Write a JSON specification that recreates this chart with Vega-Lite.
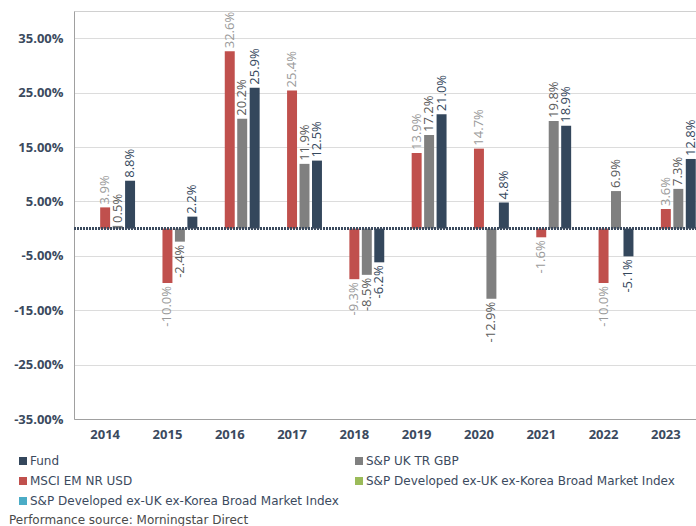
{
  "$schema": "https://vega.github.io/schema/vega-lite/v6.json",
  "autosize": {"type": "none"},
  "padding": {"left": 74, "top": 11, "right": 0, "bottom": 107},
  "width": 623,
  "height": 408,
  "config": {
    "locale": {"number": {"decimal": ".", "thousands": ",", "grouping": [3], "currency": ["$", ""], "minus": "-"}},
    "view": {"stroke": "#d0d0d0"},
    "font": "Open Sans"
  },
  "title": {
    "text": "Performance source: Morningstar Direct",
    "orient": "bottom",
    "anchor": "start",
    "frame": "group",
    "dx": -65,
    "offset": 8,
    "font": "DejaVu Sans",
    "fontSize": 12,
    "fontWeight": "normal",
    "color": "#4a4a4a"
  },
  "data": {
    "values": [
      {"year": "2014", "series": "MSCI EM NR USD", "value": 0.039},
      {"year": "2014", "series": "S&P UK TR GBP", "value": 0.005},
      {"year": "2014", "series": "Fund", "value": 0.088},
      {"year": "2015", "series": "MSCI EM NR USD", "value": -0.100},
      {"year": "2015", "series": "S&P UK TR GBP", "value": -0.024},
      {"year": "2015", "series": "Fund", "value": 0.022},
      {"year": "2016", "series": "MSCI EM NR USD", "value": 0.326},
      {"year": "2016", "series": "S&P UK TR GBP", "value": 0.202},
      {"year": "2016", "series": "Fund", "value": 0.259},
      {"year": "2017", "series": "MSCI EM NR USD", "value": 0.254},
      {"year": "2017", "series": "S&P UK TR GBP", "value": 0.119},
      {"year": "2017", "series": "Fund", "value": 0.125},
      {"year": "2018", "series": "MSCI EM NR USD", "value": -0.093},
      {"year": "2018", "series": "S&P UK TR GBP", "value": -0.085},
      {"year": "2018", "series": "Fund", "value": -0.062},
      {"year": "2019", "series": "MSCI EM NR USD", "value": 0.139},
      {"year": "2019", "series": "S&P UK TR GBP", "value": 0.172},
      {"year": "2019", "series": "Fund", "value": 0.210},
      {"year": "2020", "series": "MSCI EM NR USD", "value": 0.147},
      {"year": "2020", "series": "S&P UK TR GBP", "value": -0.129},
      {"year": "2020", "series": "Fund", "value": 0.048},
      {"year": "2021", "series": "MSCI EM NR USD", "value": -0.016},
      {"year": "2021", "series": "S&P UK TR GBP", "value": 0.198},
      {"year": "2021", "series": "Fund", "value": 0.189},
      {"year": "2022", "series": "MSCI EM NR USD", "value": -0.100},
      {"year": "2022", "series": "S&P UK TR GBP", "value": 0.069},
      {"year": "2022", "series": "Fund", "value": -0.051},
      {"year": "2023", "series": "MSCI EM NR USD", "value": 0.036},
      {"year": "2023", "series": "S&P UK TR GBP", "value": 0.073},
      {"year": "2023", "series": "Fund", "value": 0.128}
    ]
  },
  "encoding": {
    "x": {
      "field": "year", "type": "nominal",
      "scale": {"paddingInner": 0, "paddingOuter": 0},
      "axis": {
        "title": null, "labelAngle": 0, "ticks": false, "labelPadding": 9,
        "labelFont": "Open Sans", "labelFontSize": 13, "labelFontWeight": "bold",
        "labelColor": "#3b4a5e", "domainColor": "#a0a0a0", "grid": false
      }
    },
    "xOffset": {
      "field": "series", "type": "nominal",
      "scale": {
        "domain": ["S&P Developed (1)", "S&P Developed (2)", "MSCI EM NR USD", "S&P UK TR GBP", "Fund"],
        "paddingInner": 0.2, "paddingOuter": 0.1
      }
    },
    "y": {
      "field": "value", "type": "quantitative",
      "scale": {"domain": [-0.35, 0.40], "nice": false, "zero": false},
      "axis": {
        "title": null, "values": [-0.35, -0.25, -0.15, -0.05, 0.05, 0.15, 0.25, 0.35],
        "format": ".2%", "ticks": false, "labelPadding": 11,
        "labelFont": "Open Sans", "labelFontSize": 13, "labelFontWeight": "bold",
        "labelColor": "#3b4a5e", "domainColor": "#a0a0a0",
        "gridColor": "#dcdcdc", "gridWidth": 1
      }
    }
  },
  "layer": [
    {
      "mark": {"type": "bar", "stroke": null},
      "encoding": {
        "color": {
          "field": "series", "type": "nominal",
          "scale": {
            "domain": ["Fund", "S&P UK TR GBP", "MSCI EM NR USD", "S&P Developed (1)", "S&P Developed (2)"],
            "range": ["#34475c", "#808080", "#c0504d", "#9bbb59", "#4bacc6"]
          },
          "legend": {
            "title": null, "orient": "none", "legendX": -57, "legendY": 444,
            "direction": "horizontal", "columns": 2, "columnPadding": 14, "rowPadding": 8,
            "symbolType": "square", "symbolSize": 64, "symbolStrokeWidth": 0,
            "labelFont": "DejaVu Sans", "labelFontSize": 12, "labelColor": "#3b4a5e",
            "labelOffset": 1, "labelLimit": 500,
            "labelExpr": "indexof(datum.label, 'S&P Developed') == 0 ? 'S&P Developed ex-UK ex-Korea Broad Market Index' : datum.label"
          }
        }
      }
    },
    {
      "mark": {"type": "rule", "color": "#3b4a5e", "strokeWidth": 2, "strokeDash": [2, 1]},
      "encoding": {"y": {"datum": 0}, "x": null, "xOffset": null}
    },
    {
      "transform": [{"filter": "datum.value >= 0"}],
      "mark": {"type": "text", "angle": 270, "align": "left", "baseline": "middle", "dx": 3, "font": "Open Sans", "fontSize": 13},
      "encoding": {
        "text": {"field": "value", "type": "quantitative", "format": ".1%"},
        "color": {
          "condition": [
            {"test": "datum.series == 'Fund'", "value": "#34475c"},
            {"test": "datum.series == 'S&P UK TR GBP'", "value": "#5a5a5a"}
          ],
          "value": "#9a9a9a"
        }
      }
    },
    {
      "transform": [{"filter": "datum.value < 0"}],
      "mark": {"type": "text", "angle": 270, "align": "right", "baseline": "middle", "dx": -3, "font": "Open Sans", "fontSize": 13},
      "encoding": {
        "text": {"field": "value", "type": "quantitative", "format": ".1%"},
        "color": {
          "condition": [
            {"test": "datum.series == 'Fund'", "value": "#34475c"},
            {"test": "datum.series == 'S&P UK TR GBP'", "value": "#5a5a5a"}
          ],
          "value": "#9a9a9a"
        }
      }
    }
  ]
}
